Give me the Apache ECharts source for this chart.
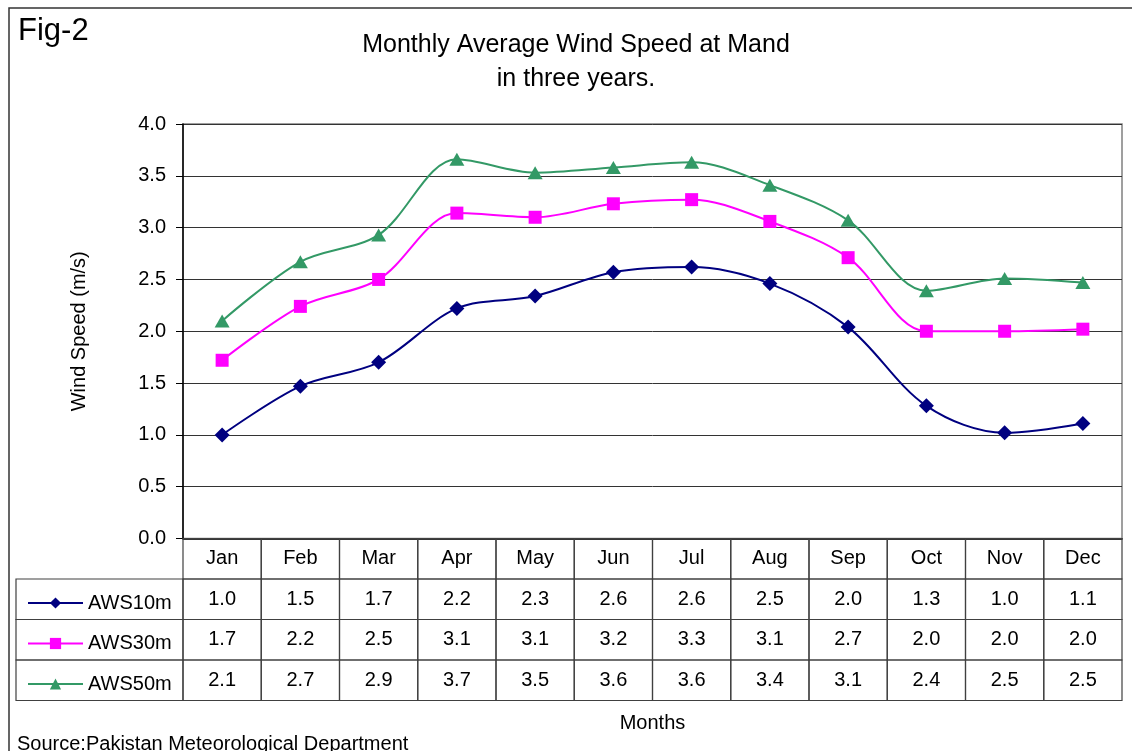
<!DOCTYPE html>
<html><head><meta charset="utf-8">
<script src="https://cdn.jsdelivr.net/npm/echarts@6/dist/echarts.min.js"></script>
<style>html,body{margin:0;padding:0;background:#fff}#c{width:1132px;height:751px}</style>
</head><body><div id="c"></div>
<script>
const months = ['Jan','Feb','Mar','Apr','May','Jun','Jul','Aug','Sep','Oct','Nov','Dec'];
const seriesNames = ['AWS10m','AWS30m','AWS50m'];
const aws10 = [1.00,1.47,1.70,2.22,2.34,2.57,2.62,2.46,2.04,1.28,1.02,1.11];
const aws30 = [1.72,2.24,2.50,3.14,3.10,3.23,3.27,3.06,2.71,2.00,2.00,2.02];
const aws50 = [2.10,2.67,2.93,3.66,3.53,3.58,3.63,3.41,3.07,2.39,2.51,2.47];
const yMin = 0, yMax = 4, yStep = 0.5;
const colors = ['#000080','#FF00FF','#339966'];
const symbols = ['diamond','rect','triangle'];
const symbolSizes = [[15,15],[13,13],[15,13]];

const FONT = '"Liberation Sans", Arial, sans-serif';
const allSeries = [aws10, aws30, aws50];
const tableText = [months].concat(allSeries.map(a => a.map(v => v.toFixed(1))));
const tableCells = [];
for (let r = 0; r < tableText.length; r++) for (let c = 0; c < months.length; c++) tableCells.push([c, r]);

const chart = echarts.init(document.getElementById('c'), null, {renderer:'canvas'});
const option = {
  backgroundColor: '#fff',
  animation: false,
  textStyle: {fontFamily: FONT},
  grid: [
    {left:183, right:10, top:124, height:414.5, show:true, borderColor:'#808080', borderWidth:1.5, backgroundColor:'#fff'},
    {left:183, right:10, top:538.5, height:162}
  ],
  xAxis: [
    {type:'category', gridIndex:0, data:months, boundaryGap:true,
     axisLine:{show:true, lineStyle:{color:'#000', width:1.5}}, axisTick:{show:false}, axisLabel:{show:false}, splitLine:{show:false}},
    {type:'category', gridIndex:1, data:months, boundaryGap:true,
     axisLine:{show:false}, axisTick:{show:false}, axisLabel:{show:false}, splitLine:{show:false},
     name:'Months', nameLocation:'middle', nameGap:13, nameTextStyle:{fontSize:20, color:'#000', fontFamily:FONT}}
  ],
  yAxis: [
    {type:'value', gridIndex:0, min:yMin, max:yMax, interval:yStep,
     axisLine:{show:true, lineStyle:{color:'#000', width:1.5}},
     axisTick:{show:true, length:7, lineStyle:{color:'#000'}},
     axisLabel:{formatter:v => v.toFixed(1), fontSize:20, color:'#000', margin:17, fontFamily:FONT},
     splitLine:{show:true, lineStyle:{color:'#333', width:1}},
     name:'Wind Speed (m/s)', nameLocation:'middle', nameGap:94, nameTextStyle:{fontSize:20, color:'#000', fontFamily:FONT}},
    {type:'category', gridIndex:1, data:[''].concat(seriesNames), inverse:true, show:false}
  ],
  legend: {
    orient:'vertical', left:22, top:588, itemWidth:55, itemHeight:14, itemGap:20.5,
    data:seriesNames, selectedMode:false,
    textStyle:{fontSize:20, color:'#000', fontFamily:FONT}
  },
  series: seriesNames.map((n, i) => ({
    name:n, type:'line', xAxisIndex:0, yAxisIndex:0, data:allSeries[i], smooth:0.33,
    symbol:symbols[i], symbolSize:symbolSizes[i], showAllSymbol:true,
    lineStyle:{color:colors[i], width:2}, itemStyle:{color:colors[i]}, z:3
  })).concat([{
    type:'custom', xAxisIndex:1, yAxisIndex:1, data:tableCells, encode:{x:0, y:1}, clip:false, silent:true,
    renderItem(params, api) {
      const c = api.value(0), r = api.value(1);
      const p = api.coord([c, r]);
      const s = api.size([1, 1]);
      const x0 = p[0] - s[0]/2, y0 = p[1] - s[1]/2;
      const children = [
        {type:'rect', shape:{x:x0, y:y0, width:s[0], height:s[1]}, style:{fill:null, stroke:'#404040', lineWidth:1.2}},
        {type:'text', style:{text:tableText[r][c], x:p[0], y:p[1], align:'center', verticalAlign:'middle', font:'20px ' + FONT, fill:'#000'}}
      ];
      if (c === 0 && r > 0) {
        children.push({type:'rect', shape:{x:16, y:y0, width:x0-16, height:s[1]}, style:{fill:null, stroke:'#404040', lineWidth:1.2}});
      }
      return {type:'group', children};
    }
  }]),
  graphic: [
    {type:'rect', shape:{x:9, y:8, width:1130, height:760}, style:{fill:null, stroke:'#333', lineWidth:1.5}, silent:true},
    {type:'text', x:18, y:31, style:{text:'Fig-2', font:'31px ' + FONT, fill:'#000', verticalAlign:'middle'}},
    {type:'text', x:576, y:28, style:{text:'Monthly Average Wind Speed at Mand\nin three years.', font:'25px ' + FONT, lineHeight:34, fill:'#000', align:'center', verticalAlign:'top'}},
    {type:'text', x:17, y:744, style:{text:'Source:Pakistan Meteorological Department', font:'20px ' + FONT, fill:'#000', verticalAlign:'middle'}}
  ]
};
chart.setOption(option);
</script></body></html>
